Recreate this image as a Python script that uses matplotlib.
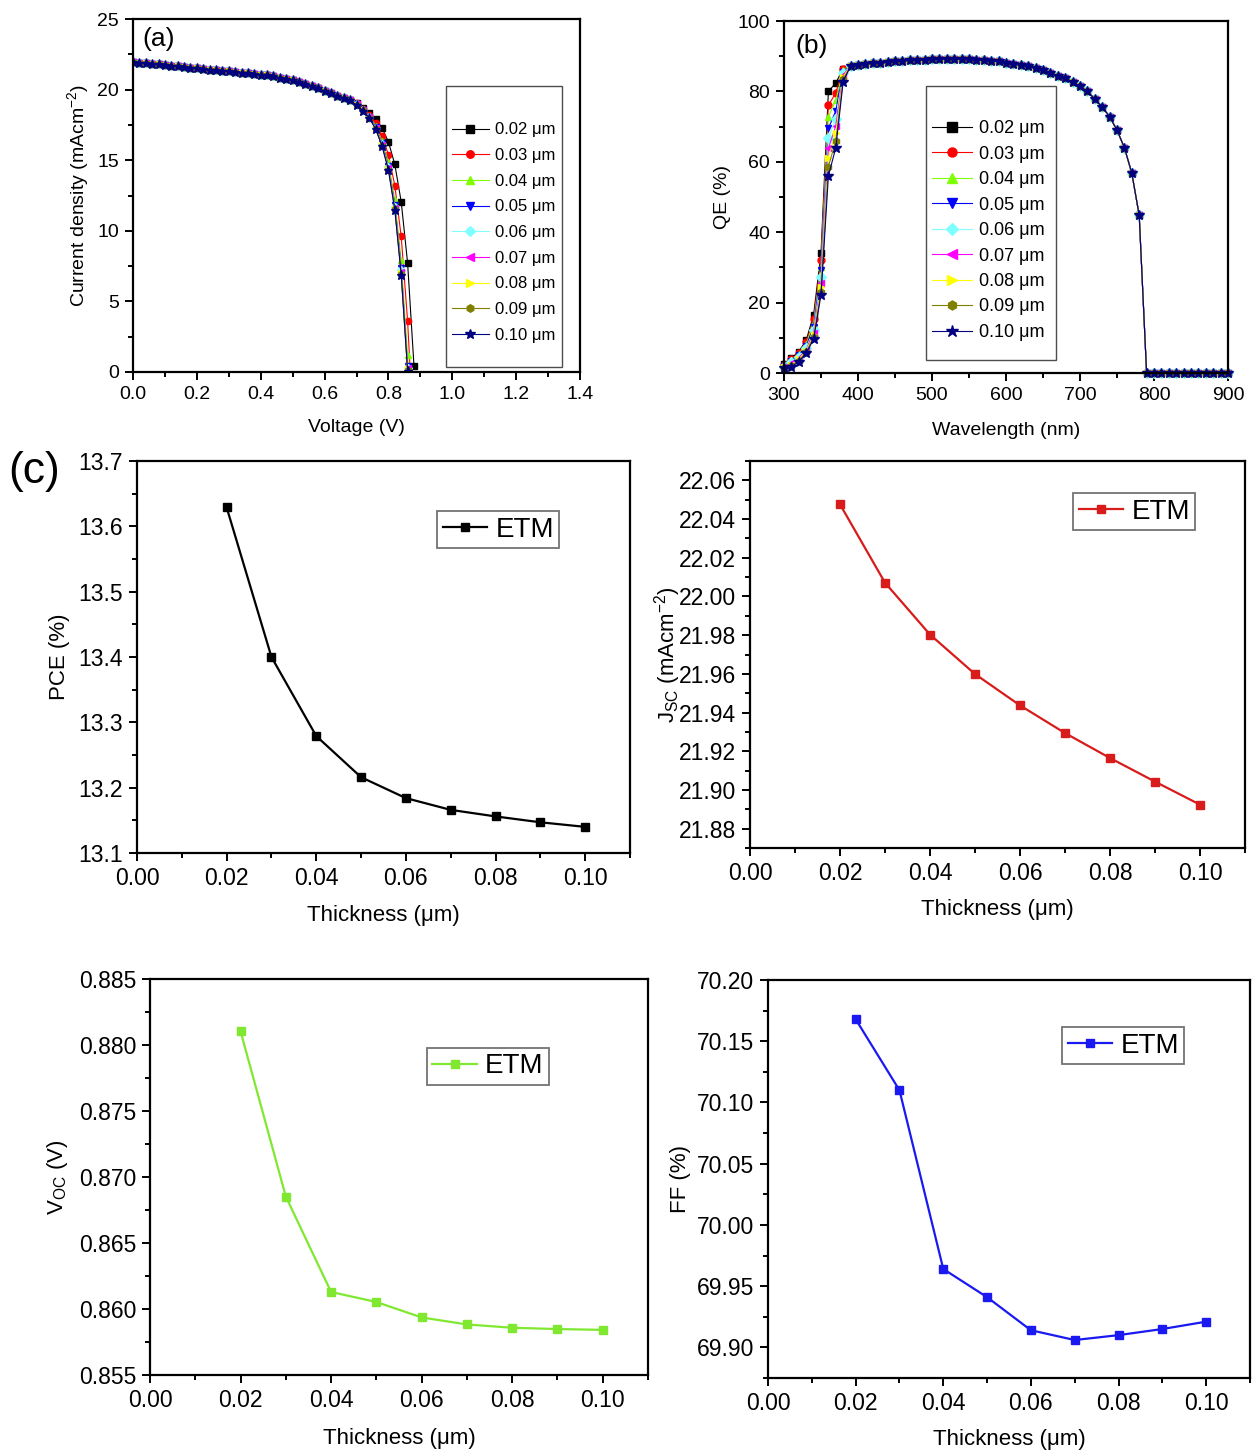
import matplotlib

matplotlib.use("Agg")
import matplotlib.pyplot as plt  # noqa: E402
from matplotlib.patches import Rectangle  # noqa: E402
from matplotlib.ticker import FormatStrFormatter, MultipleLocator  # noqa: E402

plt.rcParams["font.family"] = ["Liberation Sans", "DejaVu Sans"]
plt.rcParams["mathtext.default"] = "regular"

W, H = 1252, 1450

# ---------------- shared series info for (a) and (b) ----------------
thickness_labels = ["0.02 μm", "0.03 μm", "0.04 μm", "0.05 μm", "0.06 μm",
                    "0.07 μm", "0.08 μm", "0.09 μm", "0.10 μm"]
series_colors = ["#000000", "#ff0000", "#80ff00", "#0000ff", "#80ffff",
                 "#ff00ff", "#ffff00", "#808000", "#000080"]
series_markers = ["s", "o", "^", "v", "D", "<", ">", "h", "*"]

# ---------------- (a) J-V ----------------
voltage = [0.00, 0.02, 0.04, 0.06, 0.08, 0.10, 0.12, 0.14, 0.16, 0.18,
           0.20, 0.22, 0.24, 0.26, 0.28, 0.30, 0.32, 0.34, 0.36, 0.38,
           0.40, 0.42, 0.44, 0.46, 0.48, 0.50, 0.52, 0.54, 0.56, 0.58,
           0.60, 0.62, 0.64, 0.66, 0.68, 0.70, 0.72, 0.74, 0.76, 0.78,
           0.80, 0.82, 0.84, 0.86, 0.88]
# identical for every thickness up to 0.68 V
jv_common = [21.95, 21.91, 21.87, 21.83, 21.79, 21.75, 21.70, 21.65, 21.60, 21.55,
             21.50, 21.46, 21.42, 21.38, 21.34, 21.30, 21.25, 21.20, 21.15, 21.10,
             21.06, 21.00, 20.93, 20.85, 20.76, 20.66, 20.55, 20.42, 20.27, 20.10,
             19.90, 19.74, 19.58, 19.41, 19.24]
# 0.70 ... 0.88 V
jv_tail = [
    [19.06, 18.72, 18.35, 17.92, 17.28, 16.30, 14.70, 12.06, 7.73, 0.45],
    [19.02, 18.65, 18.22, 17.65, 16.70, 15.40, 13.20, 9.60, 3.64, -5.0],
    [18.99, 18.60, 18.12, 17.45, 16.35, 14.85, 12.20, 7.90, 1.20, -8.0],
    [18.97, 18.57, 18.07, 17.35, 16.20, 14.60, 11.85, 7.40, 0.40, -9.0],
    [18.96, 18.55, 18.04, 17.30, 16.12, 14.50, 11.70, 7.20, 0.30, -9.0],
    [18.95, 18.54, 18.03, 17.27, 16.08, 14.42, 11.62, 7.10, 0.25, -9.0],
    [18.94, 18.53, 18.02, 17.25, 16.05, 14.38, 11.57, 7.00, 0.20, -9.0],
    [18.93, 18.52, 18.01, 17.23, 16.03, 14.34, 11.53, 6.95, 0.15, -9.0],
    [18.92, 18.51, 18.00, 17.20, 16.00, 14.30, 11.50, 6.90, 0.10, -9.0],
]

# ---------------- (b) QE ----------------
wavelength = [300, 310, 320, 330, 340, 350, 360, 370, 380, 390,
              400, 410, 420, 430, 440, 450, 460, 470, 480, 490,
              500, 510, 520, 530, 540, 550, 560, 570, 580, 590,
              600, 610, 620, 630, 640, 650, 660, 670, 680, 690,
              700, 710, 720, 730, 740, 750, 760, 770, 780, 790,
              800, 810, 820, 830, 840, 850, 860, 870, 880, 890, 900]
# 300 ... 380 nm, one row per thickness
qe_head = [
    [2.5, 4.2, 6.1, 9.3, 16.5, 34.0, 80.0, 82.4, 86.5],
    [2.3, 3.9, 5.7, 8.7, 15.3, 32.0, 76.0, 79.6, 86.3],
    [2.1, 3.6, 5.4, 8.1, 14.2, 30.2, 72.8, 77.5, 86.0],
    [2.0, 3.3, 5.0, 7.6, 13.2, 29.3, 69.5, 74.5, 85.6],
    [1.8, 3.0, 4.6, 7.1, 12.3, 27.4, 66.7, 72.3, 85.2],
    [1.7, 2.7, 4.3, 6.6, 11.5, 25.5, 63.8, 70.2, 84.7],
    [1.6, 2.4, 3.9, 6.3, 10.8, 24.5, 61.2, 68.1, 84.2],
    [1.4, 2.1, 3.5, 5.9, 10.2, 23.1, 58.6, 66.0, 83.5],
    [1.3, 1.8, 3.2, 5.6, 9.6, 22.2, 56.0, 64.0, 82.8],
]
# 390 ... 900 nm, same for every thickness
qe_common = [87.2, 87.5, 87.8, 88.0, 88.2, 88.4, 88.6, 88.7, 88.8, 88.9,
             89.0, 89.1, 89.2, 89.2, 89.3, 89.2, 89.1, 89.0, 88.9, 88.7,
             88.5, 88.2, 87.9, 87.5, 87.1, 86.6, 86.0, 85.3, 84.5, 83.7,
             82.8, 81.4, 80.0, 77.8, 75.6, 72.8, 69.0, 64.0, 56.8, 44.8,
             0.0, 0.0, 0.0, 0.0, 0.0, 0.0, 0.0, 0.0, 0.0, 0.0, 0.0, 0.0]

# ---------------- (c) thickness sweep ----------------
etm_thickness = [0.02, 0.03, 0.04, 0.05, 0.06, 0.07, 0.08, 0.09, 0.10]
pce = [13.629, 13.400, 13.279, 13.216, 13.184, 13.166, 13.156, 13.147, 13.140]
jsc = [22.0476, 22.0071, 21.9803, 21.9599, 21.9437, 21.9294, 21.9165, 21.9043, 21.8924]
voc = [0.88104, 0.86852, 0.86129, 0.86053, 0.85936, 0.85883, 0.85858, 0.85848, 0.85842]
ff = [70.168, 70.110, 69.964, 69.941, 69.914, 69.906, 69.910, 69.915, 69.921]


fig = plt.figure(figsize=(W / 100, H / 100), dpi=100)


def px_axes(left, top, right, bottom):
    return fig.add_axes([left / W, 1 - bottom / H, (right - left) / W, (bottom - top) / H])


def style_axes(ax, labelsize):
    for sp in ax.spines.values():
        sp.set_linewidth(1.6)
    ax.tick_params(which="both", direction="out", top=False, right=False,
                   labelsize=labelsize, width=1.4, pad=4)
    ax.tick_params(which="major", length=6)
    ax.tick_params(which="minor", length=3.5)


def boxed_legend(ax, anchor, box, fontsize, spacing, markerscale):
    # Origin-style legend: tall frame with empty room above and below the entries
    lg = ax.legend(loc="upper left", bbox_to_anchor=anchor, fontsize=fontsize,
                   frameon=False, handlelength=2.2, handletextpad=0.4,
                   labelspacing=spacing, borderpad=0, borderaxespad=0, numpoints=1,
                   markerscale=markerscale)
    ax.add_patch(Rectangle(box[:2], box[2], box[3], transform=ax.transAxes,
                           facecolor="white", edgecolor="0.3", lw=1.0, zorder=4))
    lg.set_zorder(5)
    return lg


# ---- (a) ----
ax_a = px_axes(133, 19, 580, 372)
for i, label in enumerate(thickness_labels):
    ms = 6.5 if series_markers[i] == "*" else 4.5
    ax_a.plot(voltage, jv_common + jv_tail[i], color=series_colors[i], lw=0.8,
              marker=series_markers[i], ms=ms, mec=series_colors[i], label=label)
ax_a.set_xlim(0, 1.4)
ax_a.set_ylim(0, 25)
ax_a.xaxis.set_major_locator(MultipleLocator(0.2))
ax_a.xaxis.set_minor_locator(MultipleLocator(0.1))
ax_a.xaxis.set_major_formatter(FormatStrFormatter("%.1f"))
ax_a.yaxis.set_major_locator(MultipleLocator(5))
ax_a.yaxis.set_minor_locator(MultipleLocator(2.5))
style_axes(ax_a, 14)
ax_a.set_xlabel("Voltage (V)", fontsize=14)
ax_a.set_ylabel("Current density (mAcm$^{-2}$)", fontsize=14)
ax_a.xaxis.set_label_coords(0.5, -0.133)
ax_a.yaxis.set_label_coords(-0.095, 0.5)
ax_a.text(0.02, 0.978, "(a)", transform=ax_a.transAxes, fontsize=19, va="top")
boxed_legend(ax_a, (0.7136, 0.707), (0.7002, 0.0142, 0.2595, 0.796), 12, 0.64, 1.2)

# ---- (b) ----
ax_b = px_axes(784, 21, 1228, 373)
for i, label in enumerate(thickness_labels):
    ms = 7 if series_markers[i] == "*" else 5
    ax_b.plot(wavelength, qe_head[i] + qe_common, color=series_colors[i], lw=0.8,
              marker=series_markers[i], ms=ms, mec=series_colors[i], label=label,
              clip_on=False)
ax_b.set_xlim(300, 900)
ax_b.set_ylim(0, 100)
ax_b.xaxis.set_major_locator(MultipleLocator(100))
ax_b.xaxis.set_minor_locator(MultipleLocator(50))
ax_b.yaxis.set_major_locator(MultipleLocator(20))
ax_b.yaxis.set_minor_locator(MultipleLocator(10))
style_axes(ax_b, 14)
ax_b.set_xlabel("Wavelength (nm)", fontsize=14)
ax_b.set_ylabel("QE (%)", fontsize=14)
ax_b.xaxis.set_label_coords(0.5, -0.14)
ax_b.yaxis.set_label_coords(-0.12, 0.5)
ax_b.text(0.025, 0.962, "(b)", transform=ax_b.transAxes, fontsize=19, va="top")
boxed_legend(ax_b, (0.333, 0.7185), (0.3198, 0.0369, 0.2928, 0.778), 13, 0.47, 1.3)

fig.text(8 / W, 1 - 472 / H, "(c)", fontsize=32, va="center", ha="left")


def sweep_panel(box, values, color, ylim, ymajor, yminor, yfmt, ylabel, leg_anchor,
                ylabel_x, xlabel_y):
    ax = px_axes(*box)
    ax.plot(etm_thickness, values, color=color, lw=1.6, marker="s", ms=5.5,
            mec=color, label="ETM")
    ax.set_xlim(0, 0.11)
    ax.set_ylim(*ylim)
    ax.xaxis.set_major_locator(MultipleLocator(0.02))
    ax.xaxis.set_minor_locator(MultipleLocator(0.01))
    ax.xaxis.set_major_formatter(FormatStrFormatter("%.2f"))
    ax.yaxis.set_major_locator(MultipleLocator(ymajor))
    ax.yaxis.set_minor_locator(MultipleLocator(yminor))
    ax.yaxis.set_major_formatter(FormatStrFormatter(yfmt))
    style_axes(ax, 16.5)
    ax.set_xlabel("Thickness (μm)", fontsize=16)
    ax.set_ylabel(ylabel, fontsize=16)
    ax.xaxis.set_label_coords(0.5, xlabel_y)
    ax.yaxis.set_label_coords(ylabel_x, 0.5)
    lg = ax.legend(loc="upper left", bbox_to_anchor=leg_anchor, fontsize=20,
                   fancybox=False, edgecolor="0.45", handlelength=1.6,
                   handletextpad=0.3, borderpad=0.2, borderaxespad=0,
                   numpoints=1, framealpha=1)
    lg.get_frame().set_linewidth(1.3)
    return ax


sweep_panel((137, 461, 630, 853), pce, "#000000", (13.1, 13.7), 0.1, 0.05, "%.1f",
            "PCE (%)", (0.6085, 0.872), -0.135, -0.133)
sweep_panel((750, 461, 1245, 848), jsc, "#d81b1b", (21.87, 22.07), 0.02, 0.01, "%.2f",
            "J$_{SC}$ (mAcm$^{-2}$)", (0.6525, 0.917), -0.135, -0.133)
sweep_panel((150, 979, 648, 1375), voc, "#80e830", (0.855, 0.885), 0.005, 0.0025, "%.3f",
            "V$_{OC}$ (V)", (0.556, 0.826), -0.16, -0.135)
sweep_panel((768, 980, 1250, 1378), ff, "#1a1af0", (69.875, 70.2), 0.05, 0.025, "%.2f",
            "FF (%)", (0.610, 0.882), -0.16, -0.128)

fig.savefig("out.png", dpi=100)
